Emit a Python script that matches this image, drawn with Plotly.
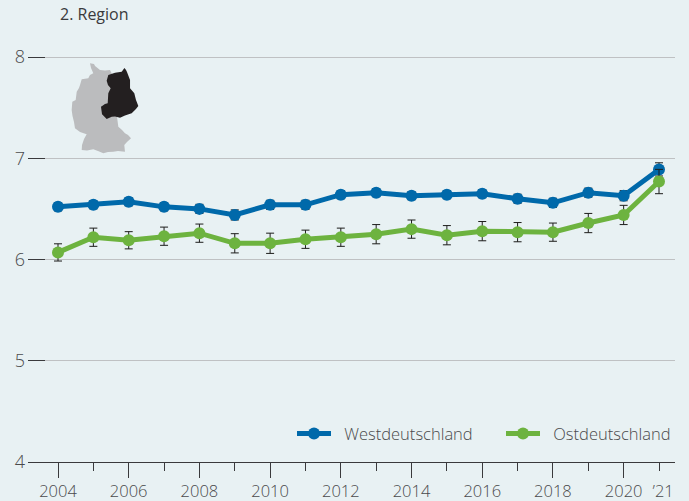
import plotly.graph_objects as go

years = list(range(2004, 2022))
even_years = years[::2]
tick_text = ["2004", "", "2006", "", "2008", "", "2010", "", "2012", "", "2014", "", "2016", "", "2018", "", "2020", "\u2002’21"]
west = [6.52, 6.54, 6.57, 6.52, 6.50, 6.44, 6.54, 6.54, 6.64, 6.66, 6.63, 6.64, 6.65, 6.60, 6.56, 6.66, 6.63, 6.89]
west_err = [0.04, 0.04, 0.04, 0.04, 0.045, 0.05, 0.045, 0.045, 0.04, 0.04, 0.04, 0.04, 0.04, 0.045, 0.045, 0.045, 0.05, 0.065]
east = [6.07, 6.22, 6.19, 6.23, 6.26, 6.16, 6.16, 6.20, 6.22, 6.25, 6.30, 6.24, 6.28, 6.27, 6.27, 6.36, 6.44, 6.77]
east_err = [0.085, 0.09, 0.085, 0.09, 0.09, 0.095, 0.10, 0.09, 0.09, 0.095, 0.09, 0.095, 0.095, 0.095, 0.09, 0.095, 0.095, 0.12]

BG = "#e8f1f3"
BLUE = "#0069aa"
GREEN = "#6db33f"
TXT = "#4a4a4c"
DARK = "#3a3a3c"
FONT = "Open Sans"

L, R, T, B = 28, 14, 0, 39
W, H = 689, 501

grey_map = [(90,63.3),(94,64),(95,66),(100,70),(105,70.5),(110,70),(115,80),(120,100),(120,112),(117,117),
            (118.3,126.7),(122,130),(125,133.3),(128,135),(131,138.3),(127,142),(124.3,145),(125,151.7),(118,151),(113.3,151.7),
            (108,152),(103.3,153.3),(98,151),(93.3,149.3),(87,150.5),(81.7,150),(82,145),(84,139),(86.7,134.3),(80,132),(75,128.3),
            (74,122),(72.5,116),(71.7,110),(72.3,101.7),(75.7,100),(76.7,91.7),(79,88),(80,85),(81.7,79.3),(88.3,78.3),(90,75),(93.3,73.3),(91,68)]
black_map = [(106.7,80.7),(108.3,75),(115,72.7),(121.7,71.7),(123,70),(124.5,68),(126,70),(127,72),(130,80),(130,88.3),(134.3,93.3),(136,100),
             (136.7,101.7),(138.3,106),(136,109),(131.7,113.3),(125,115.5),(120,117.7),(115,116.5),(111.7,116.7),(106.7,119),(102,114.3),(101,106.7),
             (105,104),(107.7,103.3),(108.3,93.3),(110.7,88.3),(108,85)]


def map_path(pts):
    out = []
    for i, (px, py) in enumerate(pts):
        fx = (px - L) / (W - L - R)
        fy = 1 - (py - T) / (H - T - B)
        out.append(("M" if i == 0 else "L") + f"{fx:.4f},{fy:.4f}")
    return " ".join(out) + " Z"


def series(name, ys, errs, color):
    return go.Scatter(
        x=years, y=ys, name=name, mode="lines+markers",
        line=dict(color=color, width=5),
        marker=dict(color=color, size=12),
        error_y=dict(type="data", array=errs, visible=True, color="#1d1d1b", thickness=1, width=4),
    )


fig = go.Figure([series("\u2002Westdeutschland", west, west_err, BLUE), series("\u2002Ostdeutschland", east, east_err, GREEN)])
fig.update_layout(
    width=W, height=H, margin=dict(l=L, r=R, t=T, b=B, pad=0, autoexpand=False),
    paper_bgcolor=BG, plot_bgcolor=BG,
    font=dict(family=FONT, size=16, color=TXT),
    legend=dict(orientation="h", x=(292 - L) / (W - L - R), xanchor="left", y=0.0613, yanchor="middle",
                bgcolor="rgba(0,0,0,0)", itemwidth=34, entrywidth=160, entrywidthmode="pixels",
                font=dict(size=16.5, color=TXT, weight=300),
                itemclick=False, itemdoubleclick=False),
    shapes=[
        dict(type="path", xref="paper", yref="paper", path=map_path(grey_map), fillcolor="#bbbcbe", line_width=0, layer="below"),
        dict(type="path", xref="paper", yref="paper", path=map_path(black_map), fillcolor="#231f20", line_width=0, layer="below"),
    ],
    annotations=[dict(text="2. Region", xref="paper", yref="paper",
                      x=(58 - L) / (W - L - R), y=1 - 14 / (H - B), xanchor="left", yanchor="middle",
                      showarrow=False, font=dict(size=16, color="#3a3a3c", family=FONT))],
)
fig.update_xaxes(
    range=[2004 - 30 / 35.35, 2021 + 16 / 35.35], automargin=False, tickangle=0,
    tickmode="array", tickvals=years, ticktext=tick_text,
    ticks="outside", ticklen=8, tickcolor=DARK, tickwidth=1,
    minor=dict(tickmode="array", tickvals=even_years, ticklen=15, tickcolor=DARK, tickwidth=1, ticks="outside", showgrid=False),
    showline=True, linecolor=DARK, linewidth=1,
    showgrid=False, zeroline=False, ticklabelstandoff=6,
    tickfont=dict(size=16.5, color=TXT, weight=300),
)
fig.update_yaxes(
    range=[4, 4 + 462 / 101.25], automargin=False,
    tickmode="array", tickvals=[4, 5, 6, 7, 8],
    ticks="inside", ticklen=17, tickcolor=DARK, tickwidth=1,
    showgrid=True, gridcolor="#bfc1c3", gridwidth=1,
    showline=False, zeroline=False, ticklabelstandoff=2,
    tickfont=dict(size=18, color=TXT, weight=300),
)
fig.write_html("out.html", config=dict(displayModeBar=False),
               post_script="document.body.style.margin='0';document.documentElement.style.overflow='hidden';")
